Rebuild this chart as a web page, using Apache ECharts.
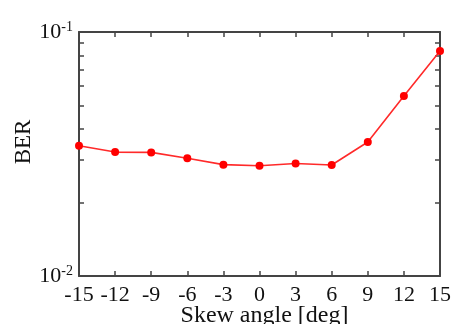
<!DOCTYPE html>
<html><head><meta charset="utf-8">
<script src="https://cdn.jsdelivr.net/npm/echarts@6/dist/echarts.min.js"></script>
<style>html,body{margin:0;padding:0;background:#fff}#c{width:460px;height:324px}</style>
</head><body><div id="c"></div>
<script>
var skewAngles = [-15, -12, -9, -6, -3, 0, 3, 6, 9, 12, 15];
var berValues = [0.0342, 0.0322, 0.0321, 0.0304, 0.0286, 0.0283, 0.0289, 0.0285, 0.0354, 0.0547, 0.0836];
var yMajorTicks = [0.01, 0.1];
var yMinorTicks = [0.02, 0.03, 0.04, 0.05, 0.06, 0.07, 0.08, 0.09];
var yTickLabels = {0.01: '-2', 0.1: '-1'};

var font = 'Liberation Serif';
var axisColor = '#444';
var chart = echarts.init(document.getElementById('c'));
var pts = skewAngles.map(function (x, i) { return [x, berValues[i]]; });

function yAxisCfg(pos, showLabels) {
  return {
    type: 'log', logBase: 10, min: 0.01, max: 0.1, position: pos,
    axisLine: { show: true, onZero: false, lineStyle: { color: axisColor, width: 2 } },
    axisTick: { show: true, inside: true, length: 5, customValues: yMinorTicks, lineStyle: { color: axisColor, width: 1.5 } },
    minorTick: { show: false },
    splitLine: { show: false },
    axisLabel: {
      show: showLabels, customValues: yMajorTicks, margin: 6,
      formatter: function (v) {
        var k = Math.abs(v - 0.1) < 1e-6 ? 0.1 : 0.01;
        return '{b|10}{s|' + yTickLabels[k] + '}';
      },
      rich: {
        b: { fontFamily: font, fontSize: 22, color: '#111' },
        s: { fontFamily: font, fontSize: 14, color: '#111', padding: [0, 0, 10, 0] }
      }
    },
    name: showLabels ? 'BER' : '', nameLocation: 'middle', nameGap: 44, nameMoveOverlap: false,
    nameTextStyle: { fontFamily: font, fontSize: 23, color: '#111', padding: [0, 0, 0, 24] }
  };
}

function xAxisCfg(pos, showLabels) {
  return {
    type: 'value', min: -15, max: 15, interval: 3, position: pos,
    axisLine: { show: true, onZero: false, lineStyle: { color: axisColor, width: 2 } },
    axisTick: { show: true, inside: true, length: 5, lineStyle: { color: axisColor, width: 1.5 } },
    splitLine: { show: false },
    axisLabel: { show: showLabels, fontFamily: font, fontSize: 22, color: '#111', margin: 8 },
    name: showLabels ? 'Skew angle [deg]' : '', nameLocation: 'middle', nameGap: 28, nameMoveOverlap: false,
    nameTextStyle: { fontFamily: font, fontSize: 24, color: '#111', padding: [0, 0, 0, 10] }
  };
}

chart.setOption({
  animation: false,
  backgroundColor: '#fff',
  grid: { left: 79, right: 20, top: 32, bottom: 48, containLabel: false, outerBoundsMode: 'none' },
  xAxis: [xAxisCfg('bottom', true), xAxisCfg('top', false)],
  yAxis: [yAxisCfg('left', true), yAxisCfg('right', false)],
  series: [{
    type: 'line', data: pts, xAxisIndex: 0, yAxisIndex: 0,
    symbol: 'circle', symbolSize: 8,
    lineStyle: { color: '#ff2a2a', width: 1.6 },
    itemStyle: { color: '#ff0000' }
  }]
});
</script></body></html>
